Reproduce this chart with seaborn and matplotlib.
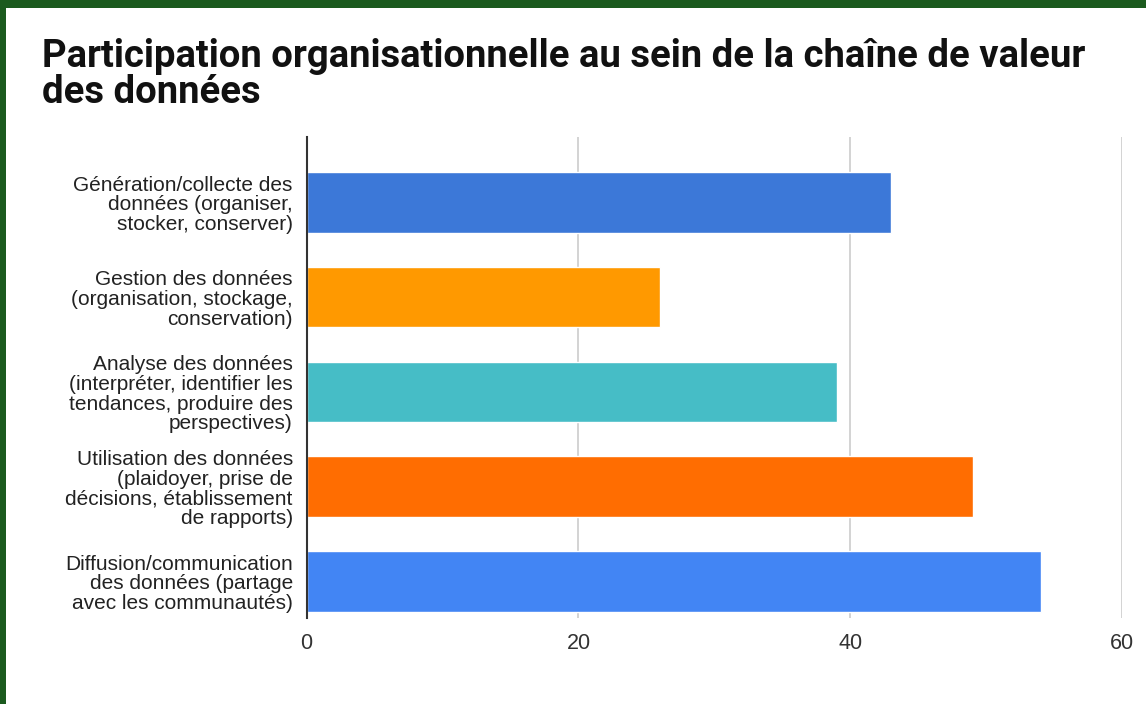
import pandas as pd
import seaborn as sns
import matplotlib.pyplot as plt
from matplotlib.patches import Rectangle

# Données
etapes = [
    "Génération/collecte des\ndonnées (organiser,\nstocker, conserver)",
    "Gestion des données\n(organisation, stockage,\nconservation)",
    "Analyse des données\n(interpréter, identifier les\ntendances, produire des\nperspectives)",
    "Utilisation des données\n(plaidoyer, prise de\ndécisions, établissement\nde rapports)",
    "Diffusion/communication\ndes données (partage\navec les communautés)",
]
valeurs = [43, 26, 39, 49, 54]
couleurs = ["#3c78d8", "#ff9900", "#46bdc6", "#ff6d01", "#4285f4"]
graduations = [0, 20, 40, 60]

df = pd.DataFrame({"etape": etapes, "valeur": valeurs})

sns.set_style("white")
plt.rcParams["font.family"] = ["Liberation Sans", "DejaVu Sans"]

fig = plt.figure(figsize=(11.46, 7.04), dpi=100)
fig.patch.set_facecolor("#1b5a1e")
# panneau blanc (bordure verte en haut et à gauche)
fig.add_artist(Rectangle((6 / 1146, 0), 1, 1 - 8 / 704, transform=fig.transFigure,
                         facecolor="white", edgecolor="none", zorder=0))

ax = fig.add_axes([0.2676, 0.1222, 0.7115, 0.6832])
ax.set_facecolor("white")

sns.barplot(data=df, x="valeur", y="etape", hue="etape", palette=couleurs,
            legend=False, orient="h", width=0.64, saturation=1, ax=ax, zorder=3)

ax.set_xlim(0, 60)
ax.set_ylim(4.385, -0.69)
ax.set_xticks(graduations)
ax.set_xticklabels([str(g) for g in graduations])
ax.xaxis.grid(True, color="#cccccc", linewidth=1.2, zorder=0)
ax.yaxis.grid(False)
for s in ["top", "right", "bottom"]:
    ax.spines[s].set_visible(False)
ax.spines["left"].set_color("#333333")
ax.spines["left"].set_linewidth(1.5)
ax.spines["left"].set_zorder(4)
ax.tick_params(axis="y", length=0, pad=10, labelsize=15, labelcolor="#222222")
ax.tick_params(axis="x", length=0, pad=11, labelsize=15.5, labelcolor="#333333")
for lab in ax.get_yticklabels():
    lab.set_horizontalalignment("right")
    lab.set_multialignment("right")
    lab.set_linespacing(1.05)
ax.set_xlabel("")
ax.set_ylabel("")

fig.text(42 / 1146, 1 - 38 / 704,
         "Participation organisationnelle au sein de la chaîne de valeur\ndes données",
         ha="left", va="top", fontsize=27.5, fontweight="bold", family=["Roboto", "DejaVu Sans"],
         color="#111111", linespacing=0.98)

plt.savefig("out.png", dpi=100, facecolor=fig.get_facecolor())
